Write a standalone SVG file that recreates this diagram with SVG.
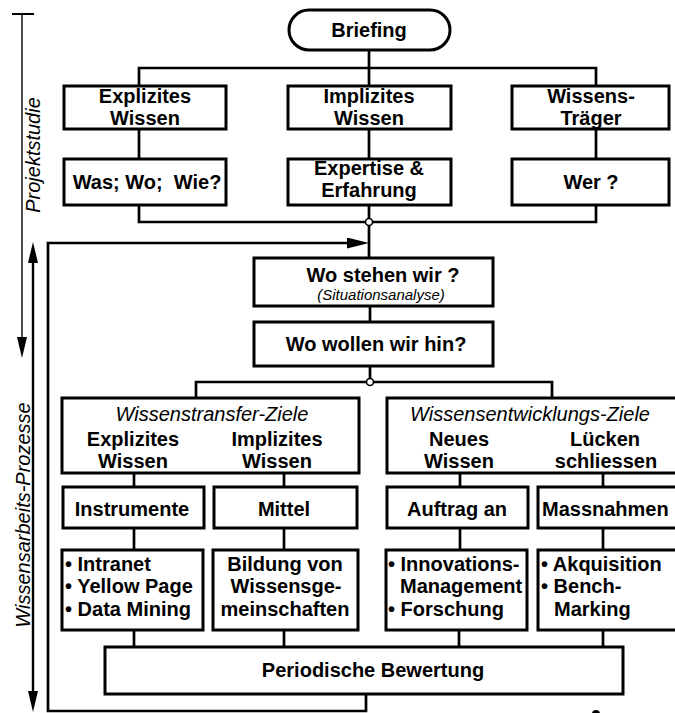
<svg xmlns="http://www.w3.org/2000/svg" width="675" height="713" viewBox="0 0 675 713">
<defs>
<style>
.box{fill:#fff;stroke:#000;stroke-width:3}
.ln{fill:none;stroke:#000;stroke-width:2.7}
.thin{fill:none;stroke:#000;stroke-width:1.4}
.dot{fill:#fff;stroke:#000;stroke-width:1.6}
text{font-family:"Liberation Sans",Arial,Helvetica,sans-serif;fill:#000}
.b{font-weight:bold;font-size:20px;text-anchor:middle}
.bs{font-weight:bold;font-size:20px;text-anchor:start}
.i{font-style:italic;font-size:20px;text-anchor:middle}
.si{font-style:italic;font-size:15px;text-anchor:middle}
.side{font-style:italic;font-size:20px;text-anchor:middle}
</style>
<marker id="arr" viewBox="0 0 22 11" refX="3" refY="5.5" markerWidth="22" markerHeight="11" orient="auto" markerUnits="userSpaceOnUse"><path d="M0,0 L22,5.5 L0,11 z" fill="#000"/></marker>
<marker id="sm" viewBox="0 0 21 10" refX="8" refY="5" markerWidth="21" markerHeight="10" orient="auto-start-reverse" markerUnits="userSpaceOnUse"><path d="M0,0 L21,5 L0,10 z" fill="#000"/></marker>
</defs>
<rect width="675" height="713" fill="#fff"/>

<g id="side">
<line x1="12" y1="14" x2="34" y2="14" stroke="#000" stroke-width="2"/>
<path class="thin" d="M22,14 V345" marker-end="url(#sm)"/>
<path d="M33,255 V699" fill="none" stroke="#000" stroke-width="2.4" marker-start="url(#sm)" marker-end="url(#sm)"/>
<text class="side" transform="translate(40,155) rotate(-90)">Projektstudie</text>
<text class="side" transform="translate(30,515) rotate(-90)">Wissensarbeits-Prozesse</text>
</g>

<g id="connectors">
<path class="ln" d="M369,50 V86"/>
<path class="ln" d="M139,86 V68 H596 V86"/>
<path class="ln" d="M139,129 V159 M369,129 V159 M596,129 V159"/>
<path class="ln" d="M139,205 V222 H596 V205"/>
<path class="ln" d="M369,205 V258"/>
<path class="ln" d="M366,694 V711 H48 V243 H350" marker-end="url(#arr)"/>
<path class="ln" d="M370,306 V322"/>
<path class="ln" d="M370,366 V382"/>
<path class="ln" d="M196,398 V382 H552 V398"/>
<path class="ln" d="M134,473 V487 M284,473 V487 M460,473 V487 M603,473 V487"/>
<path class="ln" d="M134,528 V550 M284,528 V550 M460,528 V550 M603,528 V550"/>
<path class="ln" d="M134,630 V647 M284,630 V647 M459,630 V647 M603,630 V647"/>
<circle class="dot" cx="369" cy="222" r="3.5"/>
<circle class="dot" cx="370" cy="382" r="3.5"/>
<circle cx="596" cy="714" r="4" fill="#000"/>
</g>

<g id="briefing"><rect class="box" x="289" y="10" width="161" height="40" rx="20"/><text class="b" x="369" y="37">Briefing</text></g>
<g id="explizit"><rect class="box" x="64" y="86" width="162" height="43"/><text class="b" x="145" y="103">Explizites</text><text class="b" x="145" y="125">Wissen</text></g>
<g id="implizit"><rect class="box" x="288" y="86" width="163" height="43"/><text class="b" x="369" y="103">Implizites</text><text class="b" x="369" y="125">Wissen</text></g>
<g id="traeger"><rect class="box" x="512" y="86" width="157" height="43"/><text class="b" x="591" y="103">Wissens-</text><text class="b" x="591" y="125">Träger</text></g>
<g id="was"><rect class="box" x="64" y="159" width="162" height="46"/><text class="b" x="147" y="189" xml:space="preserve">Was; Wo;  Wie?</text></g>
<g id="expertise"><rect class="box" x="288" y="159" width="163" height="46"/><text class="b" x="369" y="175">Expertise &amp;</text><text class="b" x="369" y="197">Erfahrung</text></g>
<g id="wer"><rect class="box" x="512" y="159" width="157" height="46"/><text class="b" x="591" y="189">Wer ?</text></g>

<g id="stehen"><rect class="box" x="254" y="258" width="239" height="48"/><text class="b" x="383" y="282">Wo stehen wir ?</text><text class="si" x="381" y="300">(Situationsanalyse)</text></g>
<g id="wollen"><rect class="box" x="254" y="322" width="239" height="44"/><text class="b" x="376" y="351">Wo wollen wir hin?</text></g>

<g id="transfer"><rect class="box" x="62" y="398" width="297" height="75"/><text class="i" x="212" y="421">Wissenstransfer-Ziele</text><text class="b" x="133" y="446">Explizites</text><text class="b" x="133" y="468">Wissen</text><text class="b" x="277" y="446">Implizites</text><text class="b" x="277" y="468">Wissen</text></g>
<g id="entwicklung"><rect class="box" x="387" y="398" width="310" height="75"/><text class="i" x="530" y="421">Wissensentwicklungs-Ziele</text><text class="b" x="459" y="446">Neues</text><text class="b" x="459" y="468">Wissen</text><text class="b" x="605" y="446">Lücken</text><text class="b" x="606" y="468">schliessen</text></g>

<g id="instrumente"><rect class="box" x="63" y="487" width="141" height="41"/><text class="b" x="132" y="516">Instrumente</text></g>
<g id="mittel"><rect class="box" x="214" y="487" width="143" height="41"/><text class="b" x="284" y="516">Mittel</text></g>
<g id="auftrag"><rect class="box" x="387" y="487" width="141" height="41"/><text class="b" x="457" y="516">Auftrag an</text></g>
<g id="massnahmen"><rect class="box" x="538" y="487" width="160" height="41"/><text class="bs" x="542" y="516">Massnahmen</text></g>

<g id="intranet"><rect class="box" x="62" y="550" width="141" height="80"/><text class="bs" x="65" y="571">• Intranet</text><text class="bs" x="65" y="593">• Yellow Page</text><text class="bs" x="65" y="616">• Data Mining</text></g>
<g id="bildung"><rect class="box" x="213" y="550" width="145" height="80"/><text class="b" x="285" y="571">Bildung von</text><text class="b" x="286" y="593">Wissensge-</text><text class="b" x="285" y="616">meinschaften</text></g>
<g id="innovation"><rect class="box" x="386" y="550" width="141" height="80"/><text class="bs" x="388" y="571">• Innovations-</text><text class="bs" x="400" y="593">Management</text><text class="bs" x="388" y="616">• Forschung</text></g>
<g id="akquisition"><rect class="box" x="538" y="550" width="160" height="80"/><text class="bs" x="541" y="571">• Akquisition</text><text class="bs" x="541" y="593">• Bench-</text><text class="bs" x="554" y="616">Marking</text></g>

<g id="periodisch"><rect class="box" x="105" y="647" width="518" height="47"/><text class="b" x="373" y="677">Periodische Bewertung</text></g>
</svg>
